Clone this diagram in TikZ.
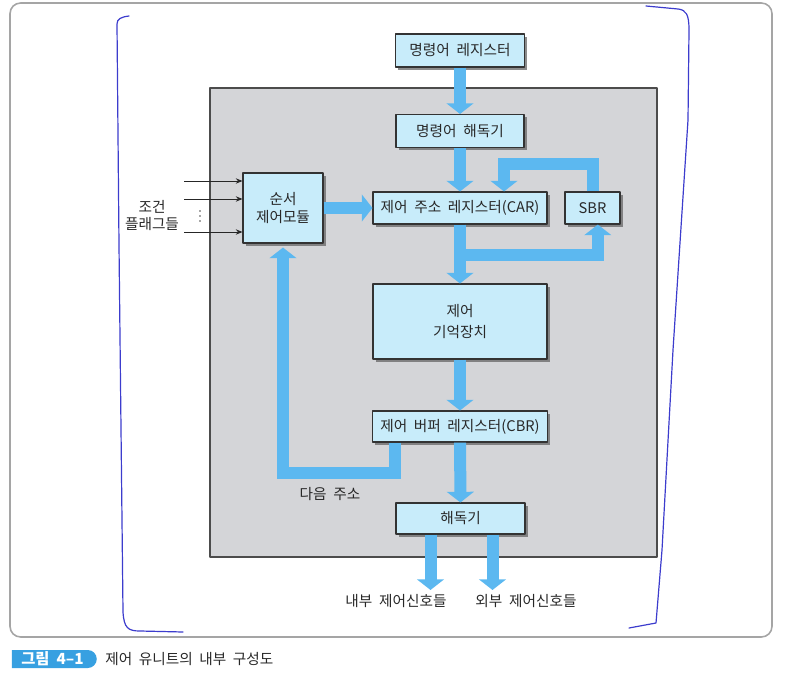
\documentclass[tikz,border=0pt]{standalone}
\usepackage{fontspec}
\setmainfont[WordSpace=2]{Noto Sans CJK KR}
\usetikzlibrary{arrows.meta,shadows,shapes.misc}
\definecolor{boxfill}{RGB}{200,236,250}
\definecolor{flowblue}{RGB}{92,184,240}
\definecolor{panelgray}{RGB}{212,213,216}
\definecolor{framegray}{RGB}{165,165,165}
\definecolor{penblue}{RGB}{60,60,205}
\definecolor{tabblue}{RGB}{55,160,225}
\definecolor{inkgray}{RGB}{40,40,40}
\begin{document}
\begin{tikzpicture}[x=0.75pt,y=-0.75pt,>=Stealth,line join=round,font=\fontsize{11}{13.2}\selectfont,text=inkgray,
	unitbox/.style={draw=black!80,fill=boxfill,line width=0.8pt,inner sep=0pt,align=center,drop shadow={shadow xshift=2pt,shadow yshift=-2pt,fill=black!60,opacity=0.75}},
	flow/.style={draw=flowblue,line width=9pt,line join=miter,-{Triangle[width=20pt,length=8pt]}},
	pen/.style={draw=penblue,line width=0.9pt,line cap=round,line join=round}]
	\useasboundingbox (0,0) rectangle (795,684);
	\draw[framegray,line width=1.2pt,rounded corners=8] (10,3) rectangle (772,637);
	\draw[black!70,fill=panelgray,line width=0.8pt] (210,88) rectangle (657,557);
	\node[unitbox,minimum width=96.75pt,minimum height=24.75pt] (ir) at (460,50.5) {명령어 레지스터};
	\node[unitbox,minimum width=96pt,minimum height=24.75pt] (id) at (460,131) {명령어 해독기};
	\node[unitbox,minimum width=60pt,minimum height=52.5pt] (seq) at (283,208) {순서\\제어모듈};
	\node[unitbox,minimum width=130.5pt,minimum height=24pt] (car) at (460,208) {제어 주소 레지스터(CAR)};
	\node[unitbox,minimum width=41.25pt,minimum height=24pt] (sbr) at (592.5,208) {SBR};
	\node[unitbox,minimum width=130.5pt,minimum height=56.25pt] (cm) at (460,321.5) {제어\\[3pt]기억장치};
	\node[unitbox,minimum width=131.25pt,minimum height=23.25pt] (cbr) at (460,426.5) {제어 버퍼 레지스터(CBR)};
	\node[unitbox,minimum width=96.75pt,minimum height=23.25pt] (dec) at (460.5,518.5) {해독기};
	\node[align=center] (flags) at (152,215.5) {조건\\플래그들};
	\node (nxt) at (330,494) {다음 주소};
	\node (lblin) at (396,601) {내부 제어신호들};
	\node (lblout) at (526,601) {외부 제어신호들};
	\coordinate (fork) at (460,255);
	\coordinate (nadr) at (283,473);
	\coordinate (sigin) at (430.5,590);
	\coordinate (sigout) at (492.5,590);
	\draw[flow] (ir) -- (id);
	\draw[flow] (id) -- (car);
	\draw[flow] (seq) -- (car);
	\draw[flow] (sbr.north) -- ++(0,-27) -| ([xshift=33pt]car.north);
	\draw[flow] (car) -- (cm);
	\draw[flow] (fork) -| ([xshift=4pt]sbr.south);
	\draw[flow] (cm) -- (cbr);
	\draw[flow] (cbr) -- (dec);
	\draw[flow] ([xshift=-48.75pt]cbr.south) |- (nadr) -- ([yshift=-3pt]seq.south);
	\draw[flow] ([xshift=-22.5pt]dec.south) -- (sigin);
	\draw[flow] ([xshift=24pt]dec.south) -- (sigout);
	\foreach \y in {181,199,232}
		{\coordinate (in\y) at (184,\y);
		\draw[-{Stealth[length=5pt,width=4pt]},black!85,line width=0.6pt] (in\y) -- (in\y -| seq.west);}
	\foreach \d in {211,216,221} \fill[black!70] (200,\d) circle[radius=0.6pt];
	\draw[pen] (129,16) .. controls (121,17) and (117,19) .. (117,24) -- (119,245) -- (122,520) -- (123,612) .. controls (124,628) and (128,631) .. (140,631) -- (183,632);
	\draw[pen] (646,6) -- (678,9) .. controls (686,10) and (689,14) .. (689,30) -- (688,120) -- (673,350) -- (662,550) -- (656,623) -- (629,628);
	\node[rounded rectangle,rounded rectangle left arc=none,fill=tabblue,text=white,font=\fontsize{11.5}{13}\selectfont\bfseries,minimum width=63.75pt,minimum height=13.5pt,inner sep=0pt] (tab) at (52.5,659) {그림 4–1};
	\node[anchor=west,inner sep=0pt,font=\fontsize{11}{13}\selectfont] (cap) at (105,659) {제어 유니트의 내부 구성도};
\end{tikzpicture}
\end{document}
